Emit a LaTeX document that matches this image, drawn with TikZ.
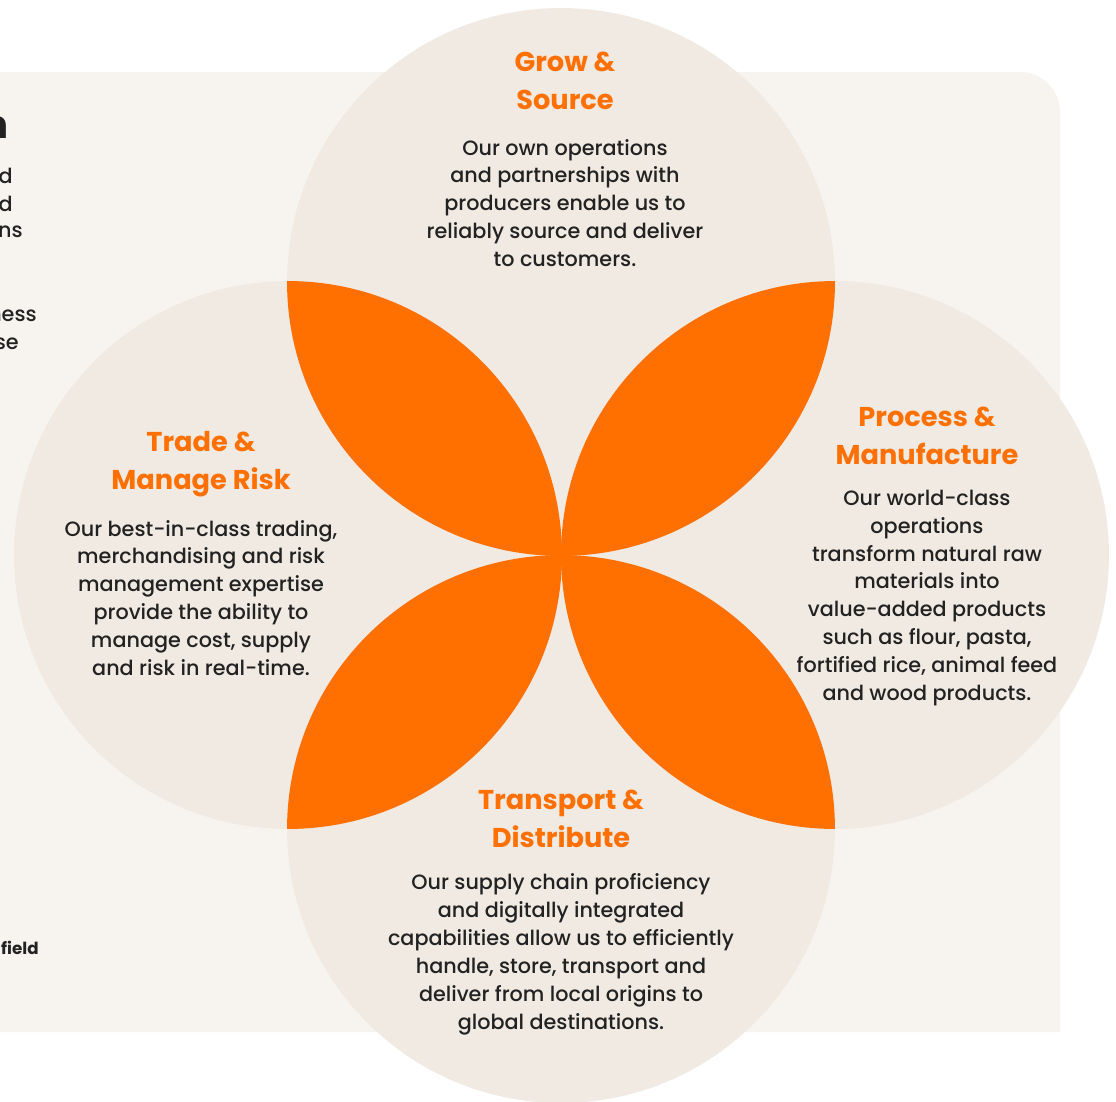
\documentclass[tikz,border=0pt]{standalone}
\usepackage{fontspec}
\setmainfont{Poppins}[UprightFont=* Medium, BoldFont=* Bold]
\usepackage{xcolor}
\usepackage{tikz}
\usetikzlibrary{positioning}
\definecolor{leaforange}{RGB}{255,112,0}
\definecolor{discbg}{RGB}{240,234,226}
\definecolor{panelbg}{RGB}{247,244,239}
\definecolor{inkdark}{RGB}{34,34,34}

\begin{document}
\begin{tikzpicture}[x=0.02cm,y=-0.02cm,
  disc/.style={fill=discbg},
  leaf/.style={fill=leaforange},
  head/.style={text=leaforange,font=\fontsize{15.5}{21.5}\selectfont\bfseries,align=center,inner sep=0pt},
  body/.style={text=inkdark,font=\fontsize{11.8}{15.9}\selectfont,align=center,inner sep=0pt},
  cut/.style={text=inkdark,anchor=east,inner sep=0pt,font=\fontsize{11.8}{15.9}\selectfont}]
\useasboundingbox (0,0) rectangle (1116,1102);
\clip (0,0) rectangle (1116,1102);
\fill[white] (0,0) rectangle (1116,1102);

% page panel behind the flower
\fill[panelbg] (-60,1032) -- (-60,72) [rounded corners=0.8cm] -- (1060,72)
  [sharp corners] -- (1060,1032) -- cycle;

% text of the page running off the left edge
\node[cut,font=\fontsize{22}{24}\selectfont\bfseries] (pgtitle) at (9,128) {n};
\node[cut] (pga) at (13,176) {d};
\node[cut] (pgb) at (13,204) {d};
\node[cut] (pgc) at (23,232) {ns};
\node[cut] (pgd) at (37,316) {ness};
\node[cut] (pge) at (19,344) {se};
\node[cut,font=\fontsize{9.5}{11}\selectfont\bfseries] (pgf) at (39,948) {field};

% centres of the four discs
\coordinate (grow) at (561,282);
\coordinate (process) at (835,555);
\coordinate (transport) at (561,829);
\coordinate (trade) at (288,555);
\def\rad{5.48cm}

\foreach \c in {grow,process,transport,trade}
  \fill[disc] (\c) circle[radius=\rad];

% petals where neighbouring discs overlap
\foreach \a/\b in {grow/trade,grow/process,transport/trade,transport/process}{
  \begin{scope}
    \clip (\a) circle[radius=\rad];
    \fill[leaf] (\b) circle[radius=\rad];
  \end{scope}
}

% Grow & Source
\node[head] (growhead) at (565,81) {Grow \&\\Source};
\node[body] (growtext) at (565,203) {Our own operations\\and partnerships with\\producers enable us to\\reliably source and deliver\\to customers.};

% Trade & Manage Risk
\node[head] (tradehead) at (201,464) {Trade \&\\Manage Risk};
\node[body] (tradetext) at (201,598) {Our best-in-class trading,\\merchandising and risk\\management expertise\\provide the ability to\\manage cost, supply\\and risk in real-time.};

% Process & Manufacture
\node[head] (processhead) at (927,436) {Process \&\\Manufacture};
\node[body] (processtext) at (927,598) {Our world-class\\operations\\transform natural raw\\materials into\\value-added products\\such as flour, pasta,\\fortified rice, animal feed\\and wood products.};

% Transport & Distribute
\node[head] (transporthead) at (561,819) {Transport \&\\Distribute};
\node[body] (transporttext) at (561,954) {Our supply chain proficiency\\and digitally integrated\\capabilities allow us to efficiently\\handle, store, transport and\\deliver from local origins to\\global destinations.};
\end{tikzpicture}
\end{document}
